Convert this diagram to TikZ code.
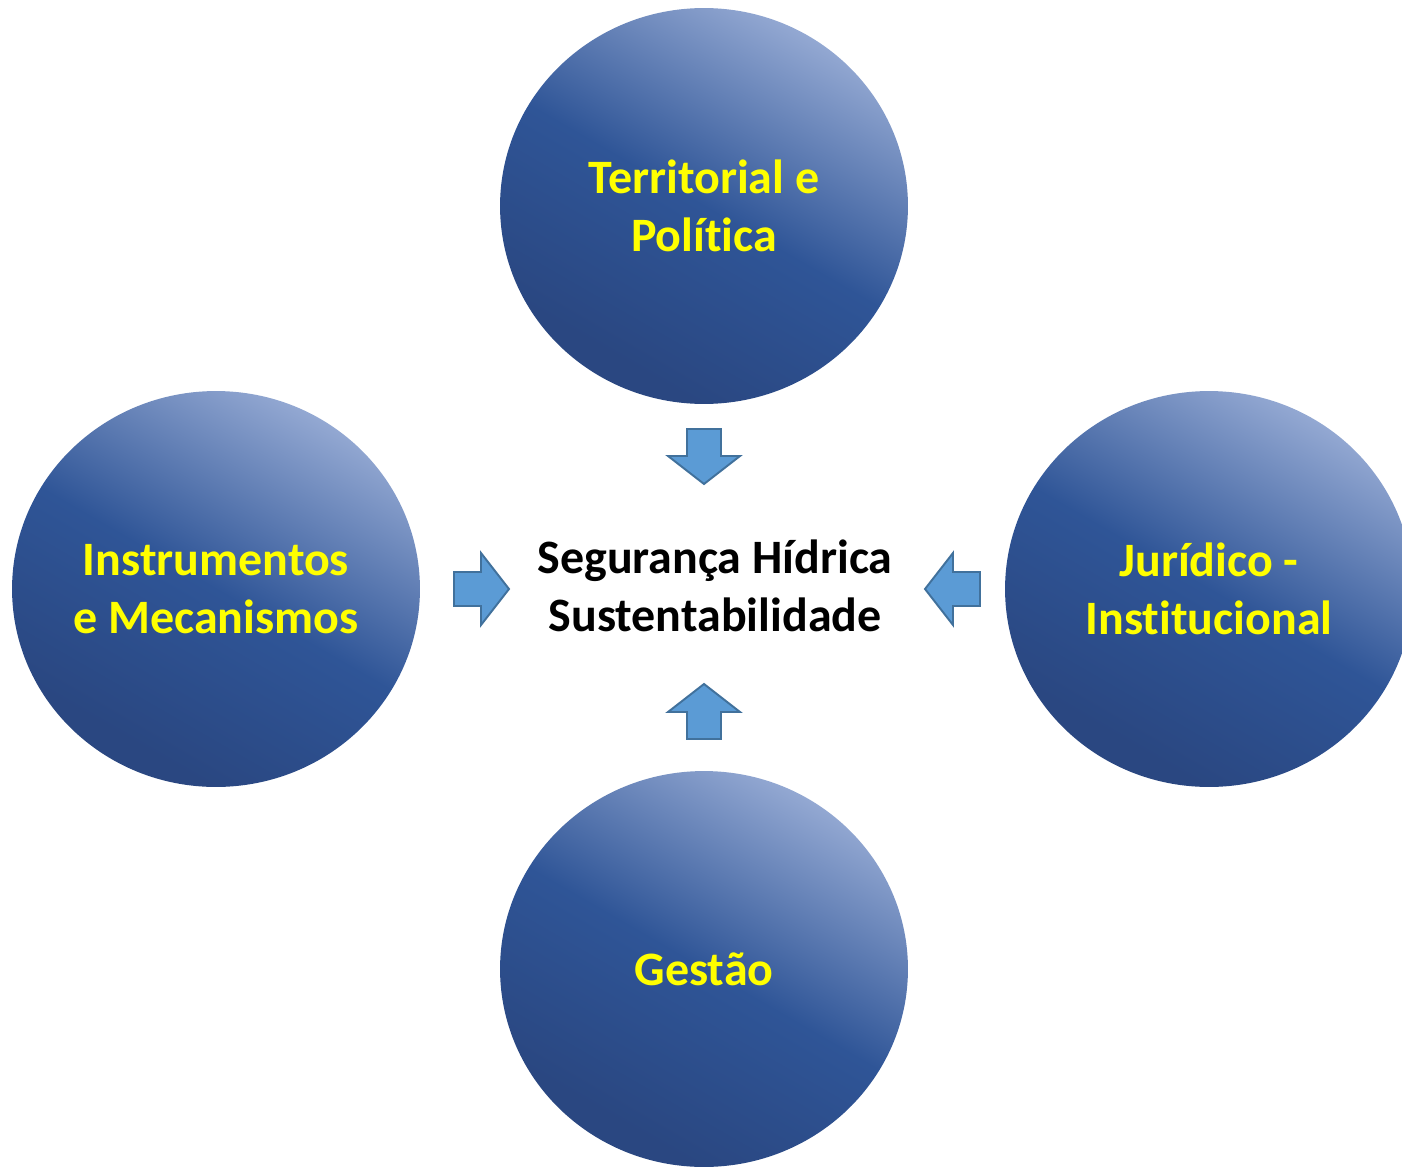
\documentclass[tikz,border=0pt]{standalone}
\usepackage{fontspec}
\setmainfont{Carlito}[Ligatures=NoCommon]
\usetikzlibrary{shapes.geometric}

\definecolor{bolhaclara}{HTML}{93A8D2}
\definecolor{bolhamedia}{HTML}{2F5597}
\definecolor{bolhaescura}{HTML}{2A4781}
\definecolor{setafundo}{HTML}{5B9BD5}
\definecolor{setaborda}{HTML}{41719C}
\definecolor{amarelo}{HTML}{FFFF00}

% gradiente das bolhas (escuro embaixo, claro no alto)
\pgfdeclareverticalshading{bolha}{100bp}{color(0bp)=(bolhaescura); color(28bp)=(bolhaescura); color(50bp)=(bolhamedia); color(75bp)=(bolhaclara); color(100bp)=(bolhaclara)}

\begin{document}
\begin{tikzpicture}[x=0.02cm, y=-0.02cm,
	eixo/.style={ellipse, minimum width=8.16cm, minimum height=7.92cm, inner sep=0pt, shade, shading=bolha, shading angle=-30, text=amarelo, align=center, font=\fontsize{27.3}{33}\selectfont\bfseries},
	centro/.style={align=center, font=\fontsize{27.3}{33}\selectfont\bfseries},
	seta/.pic={\draw[fill=setafundo, draw=setaborda, line width=1.1pt, line join=miter] (-55,-17) -- (-28,-17) -- (-28,-36) -- (0,0) -- (-28,36) -- (-28,17) -- (-55,17) -- cycle;}]
			\useasboundingbox[fill=white] (0,0) rectangle (1402,1166);
			
			% Nodes
			\node[eixo] (territorial) at (704,206) {Territorial e\\Política};
			\node[eixo] (instrumentos) at (216,589) {Instrumentos\\e Mecanismos};
			\node[eixo] (juridico) at (1209,589) {Jurídico -\\Institucional};
			\node[eixo] (gestao) at (704,969) {Gestão};
			\node[centro] (seguranca) at (715,586) {Segurança Hídrica\\Sustentabilidade};
			
			% Arrows
			\pic[rotate=-90] at (704,484) {seta};
			\pic at (509,589) {seta};
			\pic[rotate=180] at (925,589) {seta};
			\pic[rotate=90] at (704,684) {seta};
		\end{tikzpicture}
\end{document}
